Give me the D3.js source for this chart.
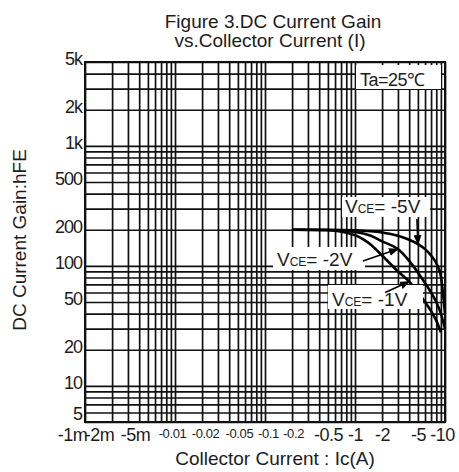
<!DOCTYPE html>
<html lang="en">
<head>
    <meta charset="UTF-8">
    <script src="https://d3js.org/d3.v7.min.js"></script>
    <title>DC Current Gain vs. Collector Current</title>
    <style>
        html,
        body {
            margin: 0px;
            padding: 0px;
            background-color: #ffffff;
        }
        svg text {
            font-family: "Liberation Sans", Arial, sans-serif;
            fill: #1c1c1c;
        }
    </style>
</head>
<body>
    <div id="chart"></div>

    <script>
        // axis ticks
        const xTickValues = [0.001, 0.002, 0.005, 0.01, 0.02, 0.05, 0.1, 0.2, 0.5, 1, 2, 5, 10];
        const xTickLabels = ['-1m', '-2m', '-5m', '-0.01', '-0.02', '-0.05', '-0.1', '-0.2', '-0.5', '-1', '-2', '-5', '-10'];
        const yTickValues = [5, 10, 20, 50, 100, 200, 500, 1000, 2000, 5000];
        const yTickLabels = ['5', '10', '20', '50', '100', '200', '500', '1k', '2k', '5k'];

        // hFE curves, collector current in A (magnitude)
        const ic5 = [0.2, 0.5, 1, 2, 3, 4, 5, 6, 7, 8, 9, 10];
        const hfe5 = [200, 200, 198, 190, 178, 165, 152, 138, 122, 105, 82, 40];
        const ic2 = [0.2, 0.5, 1, 1.5, 2, 3, 4, 5, 6, 7, 8, 9, 10];
        const hfe2 = [200, 199, 192, 178, 160, 138, 110, 88, 72, 60, 50, 40, 30];
        const ic1 = [0.2, 0.5, 1, 1.5, 2, 3, 4, 5, 6, 7, 8, 9];
        const hfe1 = [200, 198, 180, 150, 122, 90, 74, 60, 50, 42, 35, 28];

        // label nudges (px) so the crowded x labels sit like the original sheet
        const xLabelNudge = [-13, -13, -13, -3, 3, 1, 3, 1, 0, 0, 0, 0, -3];

        let width = 459;
        let height = 472;
        let plot = { left: 85, right: 445, top: 62, bottom: 422 };

        let svg = d3.select('#chart').append('svg')
            .attr('width', width)
            .attr('height', height);

        let x = d3.scaleLog().domain([0.001, 10]).range([plot.left, plot.right]);
        let y = d3.scaleLog().domain([5, 5000]).range([plot.bottom, plot.top]);

        // log paper grid
        let gridX = svg.append('g')
            .attr('transform', `translate(0,${plot.bottom})`)
            .call(d3.axisBottom(x).tickValues(x.ticks()).tickSize(-(plot.bottom - plot.top)).tickFormat(''));
        let gridY = svg.append('g')
            .attr('transform', `translate(${plot.left},0)`)
            .call(d3.axisLeft(y).tickValues(y.ticks()).tickSize(-(plot.right - plot.left)).tickFormat(''));
        [gridX, gridY].forEach(g => {
            g.select('.domain').remove();
            g.selectAll('line').attr('stroke', '#111').attr('stroke-width', 1.7);
        });

        svg.append('rect')
            .attr('x', plot.left)
            .attr('y', plot.top)
            .attr('width', plot.right - plot.left)
            .attr('height', plot.bottom - plot.top)
            .attr('fill', 'none')
            .attr('stroke', '#111')
            .attr('stroke-width', 2);

        // tick labels
        let small = d => d >= 0.01 && d <= 0.2;
        let xAxis = svg.append('g')
            .attr('transform', `translate(0,${plot.bottom})`)
            .call(d3.axisBottom(x).tickValues(xTickValues).tickSize(0).tickFormat((d, i) => xTickLabels[i]));
        xAxis.select('.domain').remove();
        xAxis.selectAll('text')
            .attr('dy', null)
            .attr('y', d => small(d) ? 16 : 19)
            .attr('dx', (d, i) => xLabelNudge[i])
            .style('font-size', d => small(d) ? '13px' : '18px')
            .style('letter-spacing', d => small(d) ? '-0.4px' : '-0.5px');

        let yAxis = svg.append('g')
            .attr('transform', `translate(${plot.left},0)`)
            .call(d3.axisLeft(y).tickValues(yTickValues).tickSize(0).tickPadding(3).tickFormat((d, i) => yTickLabels[i]));
        yAxis.select('.domain').remove();
        yAxis.selectAll('text')
            .attr('dy', d => d === 5 ? '-0.12em' : '0.15em')
            .style('font-size', '18px')
            .style('letter-spacing', '-1px');

        // curves
        let line = d3.line()
            .x(d => x(d[0]))
            .y(d => y(d[1]))
            .curve(d3.curveMonotoneX);

        let series = [
            { name: '-5V', data: d3.zip(ic5, hfe5) },
            { name: '-2V', data: d3.zip(ic2, hfe2) },
            { name: '-1V', data: d3.zip(ic1, hfe1) }
        ];

        svg.append('g').selectAll('path')
            .data(series)
            .join('path')
            .attr('d', s => line(s.data))
            .attr('fill', 'none')
            .attr('stroke', '#000')
            .attr('stroke-width', 2.6);

        // annotations: label box + arrow to a point on its curve
        let notes = [
            { name: '-5V', point: [5, 152], box: [342, 197, 88, 20], text: [345, 213], tail: [-1, -25] },
            { name: '-2V', point: [3, 138], box: [273, 247, 92, 23], text: [277, 266], tail: [-35, 12] },
            { name: '-1V', point: [4, 74], box: [328, 285, 95, 24], text: [332, 306], tail: [-24, 11] }
        ];

        svg.append('defs').append('marker')
            .attr('id', 'head')
            .attr('viewBox', '0 0 10 8')
            .attr('refX', 9)
            .attr('refY', 4)
            .attr('markerWidth', 10)
            .attr('markerHeight', 8)
            .attr('markerUnits', 'userSpaceOnUse')
            .attr('orient', 'auto')
            .append('path')
            .attr('d', 'M0,0L10,4L0,8Z')
            .attr('fill', '#000');

        let noteG = svg.append('g').selectAll('g')
            .data(notes)
            .join('g');

        noteG.append('rect')
            .attr('x', n => n.box[0])
            .attr('y', n => n.box[1])
            .attr('width', n => n.box[2])
            .attr('height', n => n.box[3])
            .attr('fill', '#fff');

        let noteText = noteG.append('text')
            .attr('x', n => n.text[0])
            .attr('y', n => n.text[1])
            .style('font-size', '19px');
        noteText.append('tspan').text('V');
        noteText.append('tspan').style('font-size', '12px').text('CE');
        noteText.append('tspan').text(n => '= ' + n.name);

        noteG.append('line')
            .attr('x1', n => x(n.point[0]) + n.tail[0])
            .attr('y1', n => y(n.point[1]) + n.tail[1])
            .attr('x2', n => x(n.point[0]))
            .attr('y2', n => y(n.point[1]))
            .attr('stroke', '#000')
            .attr('stroke-width', 1.6)
            .attr('marker-end', 'url(#head)');

        // temperature note
        svg.append('rect')
            .attr('x', 356)
            .attr('y', 65)
            .attr('width', 85)
            .attr('height', 24)
            .attr('fill', '#fff');
        svg.append('text')
            .attr('x', 360)
            .attr('y', 86)
            .style('font-size', '18px')
            .style('letter-spacing', '-0.5px')
            .text('Ta=25\u2103');

        // titles
        svg.append('text')
            .attr('x', 273)
            .attr('y', 28)
            .attr('text-anchor', 'middle')
            .style('font-size', '19px')
            .text('Figure 3.DC Current Gain');
        svg.append('text')
            .attr('x', 270)
            .attr('y', 47)
            .attr('text-anchor', 'middle')
            .style('font-size', '19px')
            .text('vs.Collector Current (I)');

        svg.append('text')
            .attr('x', 275)
            .attr('y', 465)
            .attr('text-anchor', 'middle')
            .style('font-size', '19px')
            .text('Collector Current : Ic(A)');

        svg.append('text')
            .attr('transform', 'translate(26,240) rotate(-90)')
            .attr('text-anchor', 'middle')
            .style('font-size', '19px')
            .text('DC Current Gain:hFE');
    </script>
</body>
</html>
